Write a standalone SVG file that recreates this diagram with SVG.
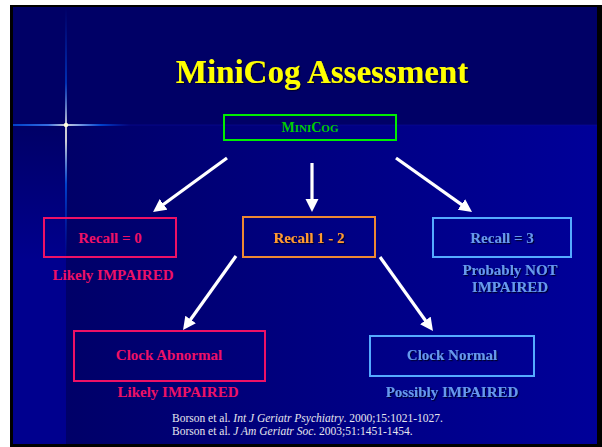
<svg xmlns="http://www.w3.org/2000/svg" width="602" height="447" viewBox="0 0 602 447">
<style>
.t{font-family:"Liberation Serif","Times New Roman",serif;font-weight:bold;text-anchor:middle}
.box{fill:none;stroke-width:2}
.arr{stroke:#ffffff;stroke-width:3.2;fill:none;marker-end:url(#ah)}
.ref{font-family:"Liberation Serif","Times New Roman",serif;font-size:11.5px;fill:#e6e6ee}
.sh{filter:url(#shadow)}
</style>
<defs>
<linearGradient id="gMain" x1="66" y1="0" x2="597" y2="0" gradientUnits="userSpaceOnUse">
<stop offset="0" stop-color="#000068"/>
<stop offset="0.45" stop-color="#000080"/>
<stop offset="1" stop-color="#000099"/>
</linearGradient>
<linearGradient id="gStrip" x1="0" y1="125" x2="0" y2="260" gradientUnits="userSpaceOnUse">
<stop offset="0" stop-color="#000066"/>
<stop offset="1" stop-color="#00008e"/>
</linearGradient>
<linearGradient id="gV" x1="0" y1="7" x2="0" y2="260" gradientUnits="userSpaceOnUse">
<stop offset="0" stop-color="#0044dd" stop-opacity="0"/>
<stop offset="0.3" stop-color="#0055ee" stop-opacity="0.7"/>
<stop offset="0.47" stop-color="#ffffee"/>
<stop offset="0.53" stop-color="#ffffee"/>
<stop offset="0.7" stop-color="#0066ff" stop-opacity="0.8"/>
<stop offset="1" stop-color="#0044dd" stop-opacity="0"/>
</linearGradient>
<linearGradient id="gH" x1="13" y1="0" x2="130" y2="0" gradientUnits="userSpaceOnUse">
<stop offset="0" stop-color="#0066ff" stop-opacity="0.8"/>
<stop offset="0.3" stop-color="#4488ff"/>
<stop offset="0.45" stop-color="#ffffee"/>
<stop offset="0.55" stop-color="#aaccff"/>
<stop offset="0.75" stop-color="#0066ff" stop-opacity="0.8"/>
<stop offset="1" stop-color="#0044dd" stop-opacity="0"/>
</linearGradient>
<filter id="shadow" x="-10%" y="-20%" width="120%" height="150%">
<feDropShadow dx="1.2" dy="1.2" stdDeviation="0.4" flood-color="#000022" flood-opacity="0.9"/>
</filter>
<marker id="ah" markerUnits="userSpaceOnUse" markerWidth="14" markerHeight="14" refX="5" refY="6.5" orient="auto">
<path d="M0,0 L13,6.5 L0,13 Z" fill="#ffffff"/>
</marker>
</defs>
<g id="background">
<rect x="0" y="0" width="602" height="447" fill="#ffffff"/>
<rect x="10" y="5" width="592" height="442" fill="#000000"/>
<rect x="13" y="7" width="584" height="437" fill="#000066"/>
<rect x="66" y="125" width="531" height="319" fill="url(#gMain)"/>
<rect x="13" y="125" width="53" height="319" fill="url(#gStrip)"/>
<rect x="66" y="124.5" width="531" height="1" fill="#0a0a99" opacity="0.6"/>
<rect x="65.2" y="7" width="1.6" height="253" fill="url(#gV)"/>
<rect x="13" y="124.2" width="117" height="1.6" fill="url(#gH)"/>
<circle cx="66" cy="125" r="2.2" fill="#ffffdd"/>
</g>
<g id="title">
<text class="t sh" x="322" y="83" font-size="33" fill="#ffff00">MiniCog Assessment</text>
</g>
<g id="node-minicog">
<rect class="box" x="224" y="115" width="172" height="25" stroke="#00ee00"/>
<text class="t" x="310" y="132" fill="#00cc00" font-size="14">M<tspan font-size="11">INI</tspan>C<tspan font-size="11">OG</tspan></text>
</g>
<g id="connectors">
<line class="arr" x1="227" y1="158" x2="159.5" y2="207.3"/>
<line class="arr" x1="312" y1="163" x2="312" y2="204"/>
<line class="arr" x1="396" y1="158" x2="465.5" y2="207.4"/>
<line class="arr" x1="236" y1="256" x2="187.7" y2="323.5"/>
<line class="arr" x1="380" y1="257" x2="428.3" y2="324.5"/>
</g>
<g id="node-recall0">
<rect class="box" x="44" y="218" width="132" height="39" stroke="#ee1166"/>
<text class="t" x="110" y="243" font-size="15" fill="#ee1166">Recall = 0</text>
<text class="t" x="113" y="280" font-size="15" fill="#ee1166">Likely IMPAIRED</text>
</g>
<g id="node-recall12">
<rect class="box" x="243" y="217" width="132" height="40" stroke="#ee8833"/>
<text class="t sh" x="309" y="243" font-size="15" fill="#ff9933">Recall 1 - 2</text>
</g>
<g id="node-recall3">
<rect class="box" x="433" y="218" width="138" height="39" stroke="#55aaff"/>
<text class="t sh" x="502" y="243" font-size="15" fill="#6699ee">Recall = 3</text>
<text class="t sh" x="510" y="275" font-size="15" fill="#6699ee">Probably NOT</text>
<text class="t sh" x="510" y="292" font-size="15" fill="#6699ee">IMPAIRED</text>
</g>
<g id="node-clockabnormal">
<rect class="box" x="74" y="331" width="191" height="50" stroke="#ee1166"/>
<text class="t" x="169" y="360" font-size="15" fill="#ee1166">Clock Abnormal</text>
<text class="t" x="178" y="397" font-size="15" fill="#ee1166">Likely IMPAIRED</text>
</g>
<g id="node-clocknormal">
<rect class="box" x="370" y="336" width="164" height="40" stroke="#55aaff"/>
<text class="t sh" x="452" y="360" font-size="15" fill="#6699ee">Clock Normal</text>
<text class="t sh" x="452" y="397" font-size="15" fill="#6699ee">Possibly IMPAIRED</text>
</g>
<g id="references">
<text class="ref" x="172" y="422">Borson et al. <tspan font-style="italic">Int J Geriatr Psychiatry</tspan>. 2000;15:1021-1027.</text>
<text class="ref" x="172" y="435">Borson et al. <tspan font-style="italic">J Am Geriatr Soc</tspan>. 2003;51:1451-1454.</text>
</g>
</svg>
